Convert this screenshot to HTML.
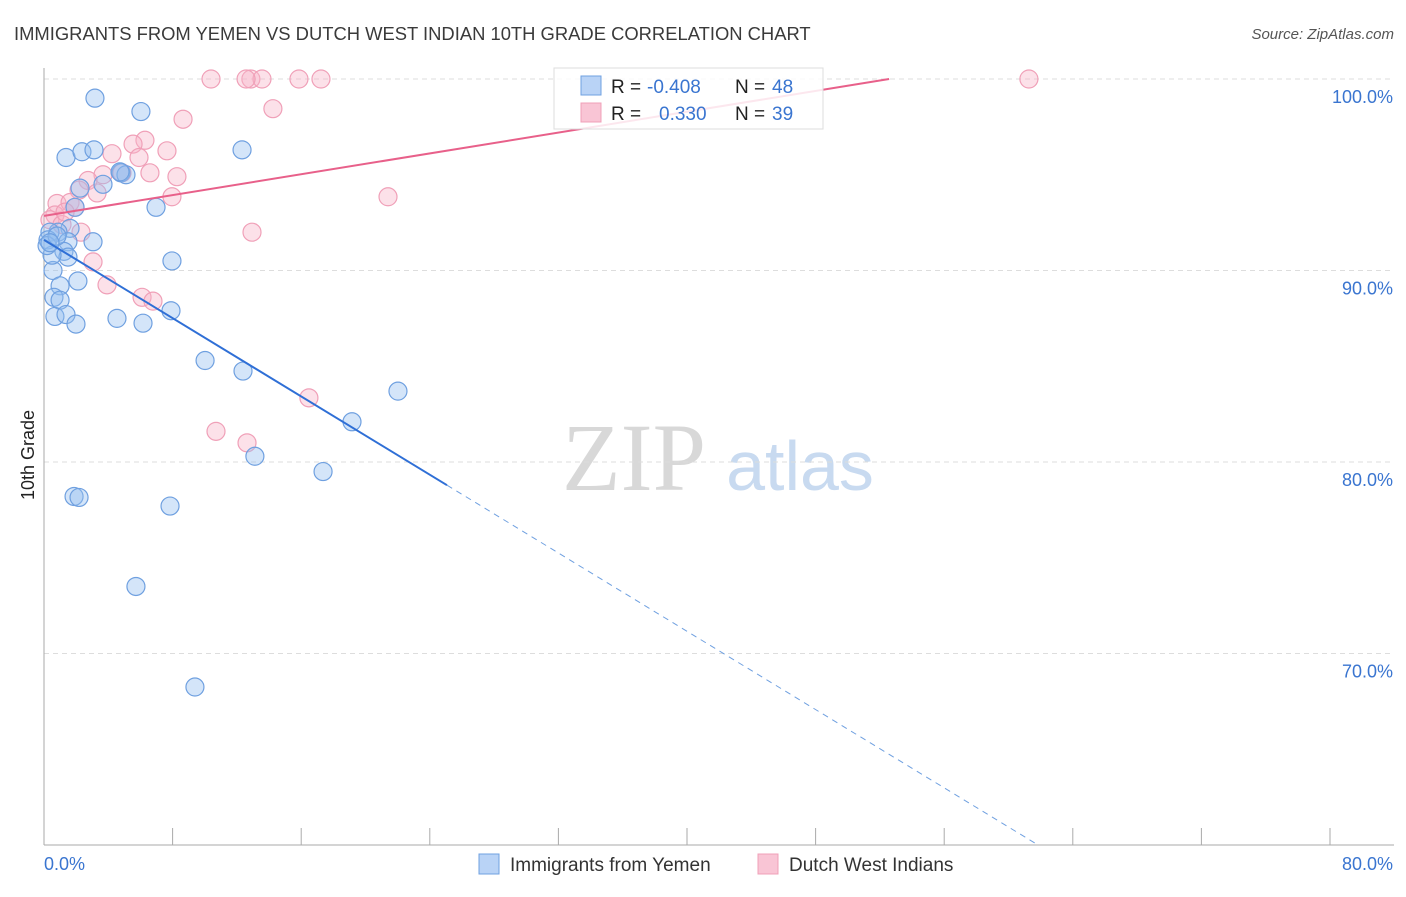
<!DOCTYPE html>
<html><head><meta charset="utf-8"><style>
body{margin:0;background:#fff;font-family:"Liberation Sans",sans-serif}
</style></head><body>
<svg width="1406" height="892" xmlns="http://www.w3.org/2000/svg" style="font-family:'Liberation Sans',sans-serif">
<text x="14" y="40" font-size="18.4" fill="#3a3a3a">IMMIGRANTS FROM YEMEN VS DUTCH WEST INDIAN 10TH GRADE CORRELATION CHART</text>
<text x="1394" y="39" font-size="15" fill="#555" font-style="italic" text-anchor="end">Source: ZipAtlas.com</text>
<g>
<text x="634" y="490" font-size="96" fill="#d8d8d8" text-anchor="middle" font-family="Liberation Serif,serif">ZIP</text>
<text x="800" y="490" font-size="70" fill="#c8daf0" text-anchor="middle">atlas</text>
</g>
<g id="grid"></g>
<g id="axes"></g>
<g id="marks"></g>
<g font-size="19">
<rect x="554" y="68" width="269" height="61" fill="#fff" fill-opacity="0.85" stroke="#ddd"/>
<rect x="581" y="76" width="20" height="19" fill="#b9d3f6" stroke="#6fa0e0"/>
<rect x="581" y="103" width="20" height="19" fill="#f9c5d5" stroke="#f0a0b8"/>
<text x="611" y="93" fill="#222">R =</text>
<text x="647" y="93" fill="#3a75d0">-0.408</text>
<text x="735" y="93" fill="#222">N =</text>
<text x="772" y="93" fill="#3a75d0">48</text>
<text x="611" y="120" fill="#222">R =</text>
<text x="659" y="120" fill="#3a75d0">0.330</text>
<text x="735" y="120" fill="#222">N =</text>
<text x="772" y="120" fill="#3a75d0">39</text>
</g>
<g>
<rect x="479" y="854" width="20" height="20" fill="#b9d3f6" stroke="#6fa0e0"/>
<text x="510" y="871" font-size="19" fill="#333">Immigrants from Yemen</text>
<rect x="758" y="854" width="20" height="20" fill="#f9c5d5" stroke="#f0a0b8"/>
<text x="789" y="871" font-size="19" fill="#333">Dutch West Indians</text>
</g>
<text transform="translate(34,455) rotate(-90)" font-size="18" fill="#222" text-anchor="middle">10th Grade</text>
</svg>
<script>
const blueX=[3.17,6.03,1.37,2.36,3.11,12.32,4.79,5.10,3.67,2.24,6.97,1.93,1.62,0.87,0.37,0.25,1.49,3.05,1.24,1.49,7.96,0.56,2.11,1.0,0.62,1.0,0.68,1.37,1.99,4.54,6.16,7.90,10.02,12.38,22.02,19.16,13.12,17.36,1.87,2.18,7.84,5.72,9.39,0.5,0.19,0.81,0.37,4.73];
const blueY=[99.0,98.3,95.9,96.2,96.3,96.3,95.1,95.0,94.5,94.3,93.3,93.3,92.2,92.0,92.0,91.6,91.5,91.5,91.0,90.7,90.5,90.0,89.45,89.2,88.6,88.45,87.6,87.7,87.2,87.5,87.25,87.9,85.3,84.75,83.7,82.1,80.3,79.5,78.2,78.15,77.7,73.5,68.25,90.8,91.3,91.8,91.45,95.15];
const pinkX=[10.39,12.87,13.56,15.86,17.23,61.27,14.24,8.65,6.28,5.54,7.65,5.91,4.23,8.27,4.85,3.67,2.74,3.30,2.18,7.96,21.40,0.81,1.62,1.93,0.68,0.37,1.12,2.30,12.94,3.05,3.92,6.10,6.78,16.48,10.70,12.63,12.57,6.59,1.31];
const pinkY=[100,100,100,100,100,100,98.45,97.9,96.8,96.6,96.25,95.9,96.1,94.9,95.1,95.0,94.7,94.05,94.2,93.85,93.85,93.5,93.55,93.3,92.9,92.65,92.4,92.0,92.0,90.45,89.25,88.6,88.4,83.35,81.6,81.0,100,95.1,93.05];
const xTicks=[0,8,16,24,32,40,48,56,64,72,80];
const yTicks=[100,90,80,70];
const yTickLabels=["100.0%","90.0%","80.0%","70.0%"];
const blueTrend=[91.6,-0.511];
const pinkTrend=[92.85,0.136];
const NS="http://www.w3.org/2000/svg";
const sx=v=>44+v/80*1286;
const sy=v=>79+(100-v)*19.15;
function mk(t,a,p){const e=document.createElementNS(NS,t);for(const k in a)e.setAttribute(k,a[k]);p.appendChild(e);return e;}
const grid=document.getElementById('grid'),axes=document.getElementById('axes'),marks=document.getElementById('marks');
yTicks.forEach((v,i)=>{
 const l=mk('line',{x1:44,x2:1394,y1:sy(v),y2:sy(v),stroke:'#ddd','stroke-dasharray':'5,4'},grid);
 
 
 const t=mk('text',{x:1393,y:sy(v)+24,'font-size':18,fill:'#3a75d0','text-anchor':'end'},axes);
 t.textContent=yTickLabels[i];
 
 
});
mk('line',{x1:44,x2:44,y1:68,y2:845,stroke:'#aaa'},axes);
mk('line',{x1:44,x2:1394,y1:845,y2:845,stroke:'#aaa'},axes);
xTicks.forEach(v=>{const l=mk('line',{x1:sx(v),x2:sx(v),y1:828,y2:845,stroke:'#aaa'},axes);
 
 });
let t=mk('text',{x:44,y:870,'font-size':18,fill:'#3a75d0'},axes);t.textContent='0.0%';


t=mk('text',{x:1393,y:870,'font-size':18,fill:'#3a75d0','text-anchor':'end'},axes);t.textContent='80.0%';


pinkX.forEach((x,i)=>{const c=mk('circle',{cx:sx(x),cy:sy(pinkY[i]),r:9,fill:'rgba(248,180,200,0.4)',stroke:'#f0a0b8','stroke-width':1.2},marks);
 
 });
blueX.forEach((x,i)=>{const c=mk('circle',{cx:sx(x),cy:sy(blueY[i]),r:9,fill:'rgba(147,190,240,0.4)',stroke:'#6fa0e0','stroke-width':1.2},marks);
 
 });
const by=x=>blueTrend[0]+blueTrend[1]*x;
let l=mk('line',{x1:sx(0),y1:sy(by(0)),x2:sx(25.07),y2:sy(by(25.07)),stroke:'#2f6fd6','stroke-width':2},marks);


const xe=(60-blueTrend[0])/blueTrend[1];
l=mk('line',{x1:sx(25.07),y1:sy(by(25.07)),x2:sx(xe),y2:sy(60),stroke:'#6fa0e0','stroke-width':1,'stroke-dasharray':'6,5'},marks);


const pxe=(100-pinkTrend[0])/pinkTrend[1];
l=mk('line',{x1:sx(0),y1:sy(pinkTrend[0]),x2:sx(pxe),y2:sy(100),stroke:'#e8608a','stroke-width':2},marks);


</script>
</body></html>
